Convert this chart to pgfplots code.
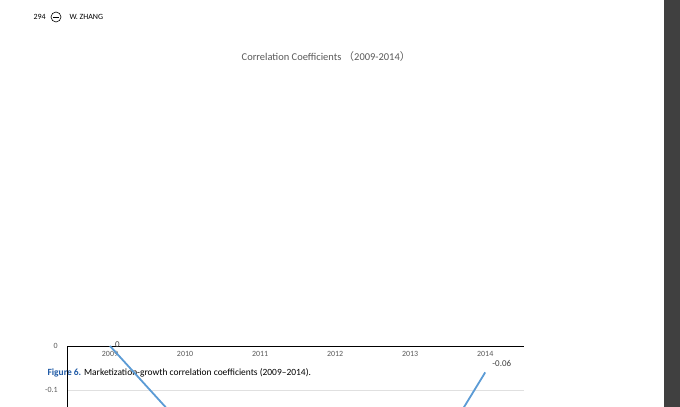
\documentclass[border=0pt]{standalone}
\usepackage{pgfplots}
\pgfplotsset{compat=1.18}
\usepackage{fontspec}
\setmainfont{Carlito}
\newfontfamily\cjk{Noto Sans CJK SC}
\begin{document}
\begin{tikzpicture}
\path[use as bounding box] (0bp,0bp) rectangle (680bp,407bp);
\fill[white] (0bp,0bp) rectangle (680bp,407bp);
\fill[black!75] (664bp,0bp) rectangle (680bp,407bp);
\node[anchor=west,font=\fontsize{8}{9}\selectfont] at (30bp,390bp) {294};
\draw[line width=0.6pt] (56bp,390bp) circle (5bp);
\fill (53bp,388.5bp) rectangle (59bp,389.5bp);
\node[anchor=west,font=\fontsize{8}{9}\selectfont] at (66bp,390bp) {W. ZHANG};
\node[font=\fontsize{10.5}{12}\selectfont,text=black!65] at (326bp,350bp) {Correlation Coefficients {\cjk （}2009-2014{\cjk ）}};
\node[anchor=west,font=\fontsize{9.5}{11}\selectfont] at (44bp,34bp) {\textcolor[HTML]{1F5AA6}{\textbf{Figure 6.}} Marketization-growth correlation coefficients (2009--2014).};
\begin{axis}[at={(110bp,61bp)},anchor=origin,scale only axis,width=457bp,height=264bp,
 xmin=-0.57,xmax=5.52,ymin=-0.6,ymax=0,
 axis x line*=top, axis y line*=left,
 axis line style={black,line width=0.8pt,-},
 xtick={0,...,5},xticklabels={2009,2010,2011,2012,2013,2014},
 xtick style={draw=none},ytick style={draw=none},
 xticklabel style={yshift=-14bp,font=\fontsize{8}{9}\selectfont,text=black!65},
 ytick={-0.6,-0.5,...,0},
 yticklabel style={font=\fontsize{8}{9}\selectfont,text=black!65,xshift=-6bp},
 /pgf/number format/assume math mode=true,
 ymajorgrids,grid style={black!12},
 ylabel={Correlation Coefficient R},
 ylabel style={rotate=180,font=\fontsize{10.5}{12}\selectfont,at={(axis description cs:-0.09,0.5)}},
 clip=false]
\addplot[color={rgb,255:red,91;green,155;blue,213},line width=1.8pt,mark=none] coordinates {(0,0)(1,-0.1876)(2,-0.4683)(3,-0.5048)(4,-0.3394)(5,-0.06)};
\addplot[color={rgb,255:red,91;green,155;blue,213},line width=2.2pt,dotted,mark=none] coordinates {(0,-0.202)(5,-0.316)};
\begin{scope}[every node/.style={font=\fontsize{9}{10}\selectfont,text=black!75,anchor=west}]
\node at (axis cs:0.02,0.004) {0};
\node at (axis cs:1.05,-0.184) {-0.1876};
\node at (axis cs:2.05,-0.462) {-0.4683};
\node at (axis cs:3.05,-0.512) {-0.5048};
\node at (axis cs:4.03,-0.350) {-0.3394};
\node at (axis cs:5.05,-0.04) {-0.06};
\end{scope}
\end{axis}
\end{tikzpicture}
\end{document}
